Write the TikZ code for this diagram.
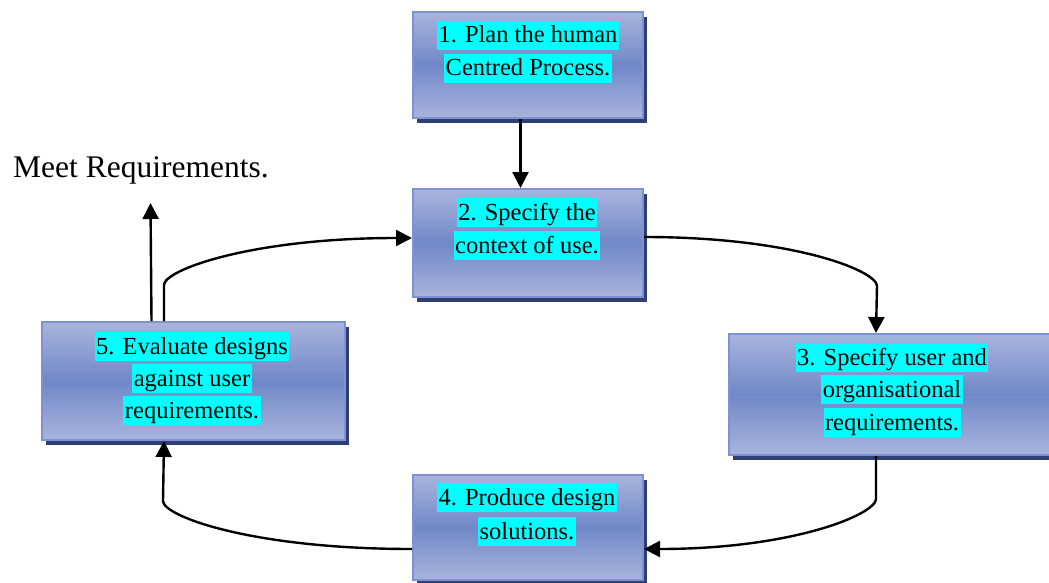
\documentclass[tikz,border=0pt]{standalone}
\usepackage{fontspec}
\setmainfont{Liberation Serif}
\usetikzlibrary{arrows.meta,shadows}

\definecolor{boxlight}{HTML}{A9B4DE}
\definecolor{boxmid}{HTML}{7088C7}
\definecolor{boxedge}{HTML}{7E91D1}
\definecolor{boxshadow}{HTML}{2F3E73}
\definecolor{hlcyan}{HTML}{00FFFF}

\tikzset{
  stagebox/.style={rectangle, draw=boxedge, line width=2pt,
    top color=boxlight, bottom color=boxlight, middle color=boxmid,
    general shadow={fill=boxshadow, shadow xshift=4pt, shadow yshift=-5pt},
    anchor=north west, inner sep=0pt},
  hl/.style={fill=hlcyan, inner xsep=1.5pt, inner ysep=0pt,
    text height=22pt, text depth=7pt, anchor=base,
    font=\fontsize{24.5}{30}\selectfont},
  flow/.style={line width=2.4pt, -{Triangle[width=16pt 0 0,length=16pt 0 0]}},
}

\begin{document}
\begin{tikzpicture}[x=1pt, y=-1pt]
  \useasboundingbox (0,0) rectangle (1049,583);
  \clip (0,0) rectangle (1049,583);

  % stage boxes
  \node[stagebox, minimum width=230pt, minimum height=106pt] (b1) at (412,11) {};
  \node[stagebox, minimum width=230pt, minimum height=108pt] (b2) at (412,188) {};
  \node[stagebox, minimum width=328pt, minimum height=121pt] (b3) at (728,333) {};
  \node[stagebox, minimum width=230pt, minimum height=105pt] (b4) at (412,474) {};
  \node[stagebox, minimum width=303pt, minimum height=118pt] (b5) at (41,321) {};

  % highlighted labels, one node per line
  \node[hl] (t1a) at (528,43) {1. Plan the human};
  \node[hl] (t1b) at (528,76) {Centred Process.};

  \node[hl] (t2a) at (527,220) {2. Specify the};
  \node[hl] (t2b) at (527,253) {context of use.};

  \node[hl] (t3a) at (892,365) {3. Specify user and};
  \node[hl] (t3b) at (892,397) {organisational};
  \node[hl] (t3c) at (892,430) {requirements.};

  \node[hl] (t4a) at (527,505) {4. Produce design};
  \node[hl] (t4b) at (527,539) {solutions.};

  \node[hl] (t5a) at (192,354) {5. Evaluate designs};
  \node[hl] (t5b) at (192,386) {against user};
  \node[hl] (t5c) at (192,418) {requirements.};

  % exit label
  \node[anchor=base west, inner sep=0pt, font=\fontsize{31.5}{36}\selectfont]
    (meetlbl) at (13,177) {Meet Requirements.};
  \coordinate (meet) at (150.5,203);

  % connectors
  \draw[flow] ([xshift=-7.5pt]b1.south) -- ([xshift=-7.5pt]b2.north);

  \draw[flow] ([yshift=6pt]b2.east)
    .. controls +(150,0) and +(0,-15) .. ++(233,49)
    -- ([xshift=-17pt]b3.north);

  \draw[flow] ([xshift=-17pt]b3.south) -- ++(0,43)
    .. controls +(0,15) and +(150,0) .. ([yshift=-21.5pt]b4.east);

  \draw[flow] ([yshift=-21.5pt]b4.west)
    .. controls +(-161,0) and +(0,15) .. ++(-249,-48)
    -- ([xshift=-29.5pt]b5.south);

  \draw[flow] ([xshift=-29.5pt]b5.north) -- ++(0,-36)
    .. controls +(0,-15) and +(-161,0) .. ([yshift=5pt]b2.west);

  \draw[flow] ([xshift=-42pt]b5.north) -- (meet);
\end{tikzpicture}
\end{document}
